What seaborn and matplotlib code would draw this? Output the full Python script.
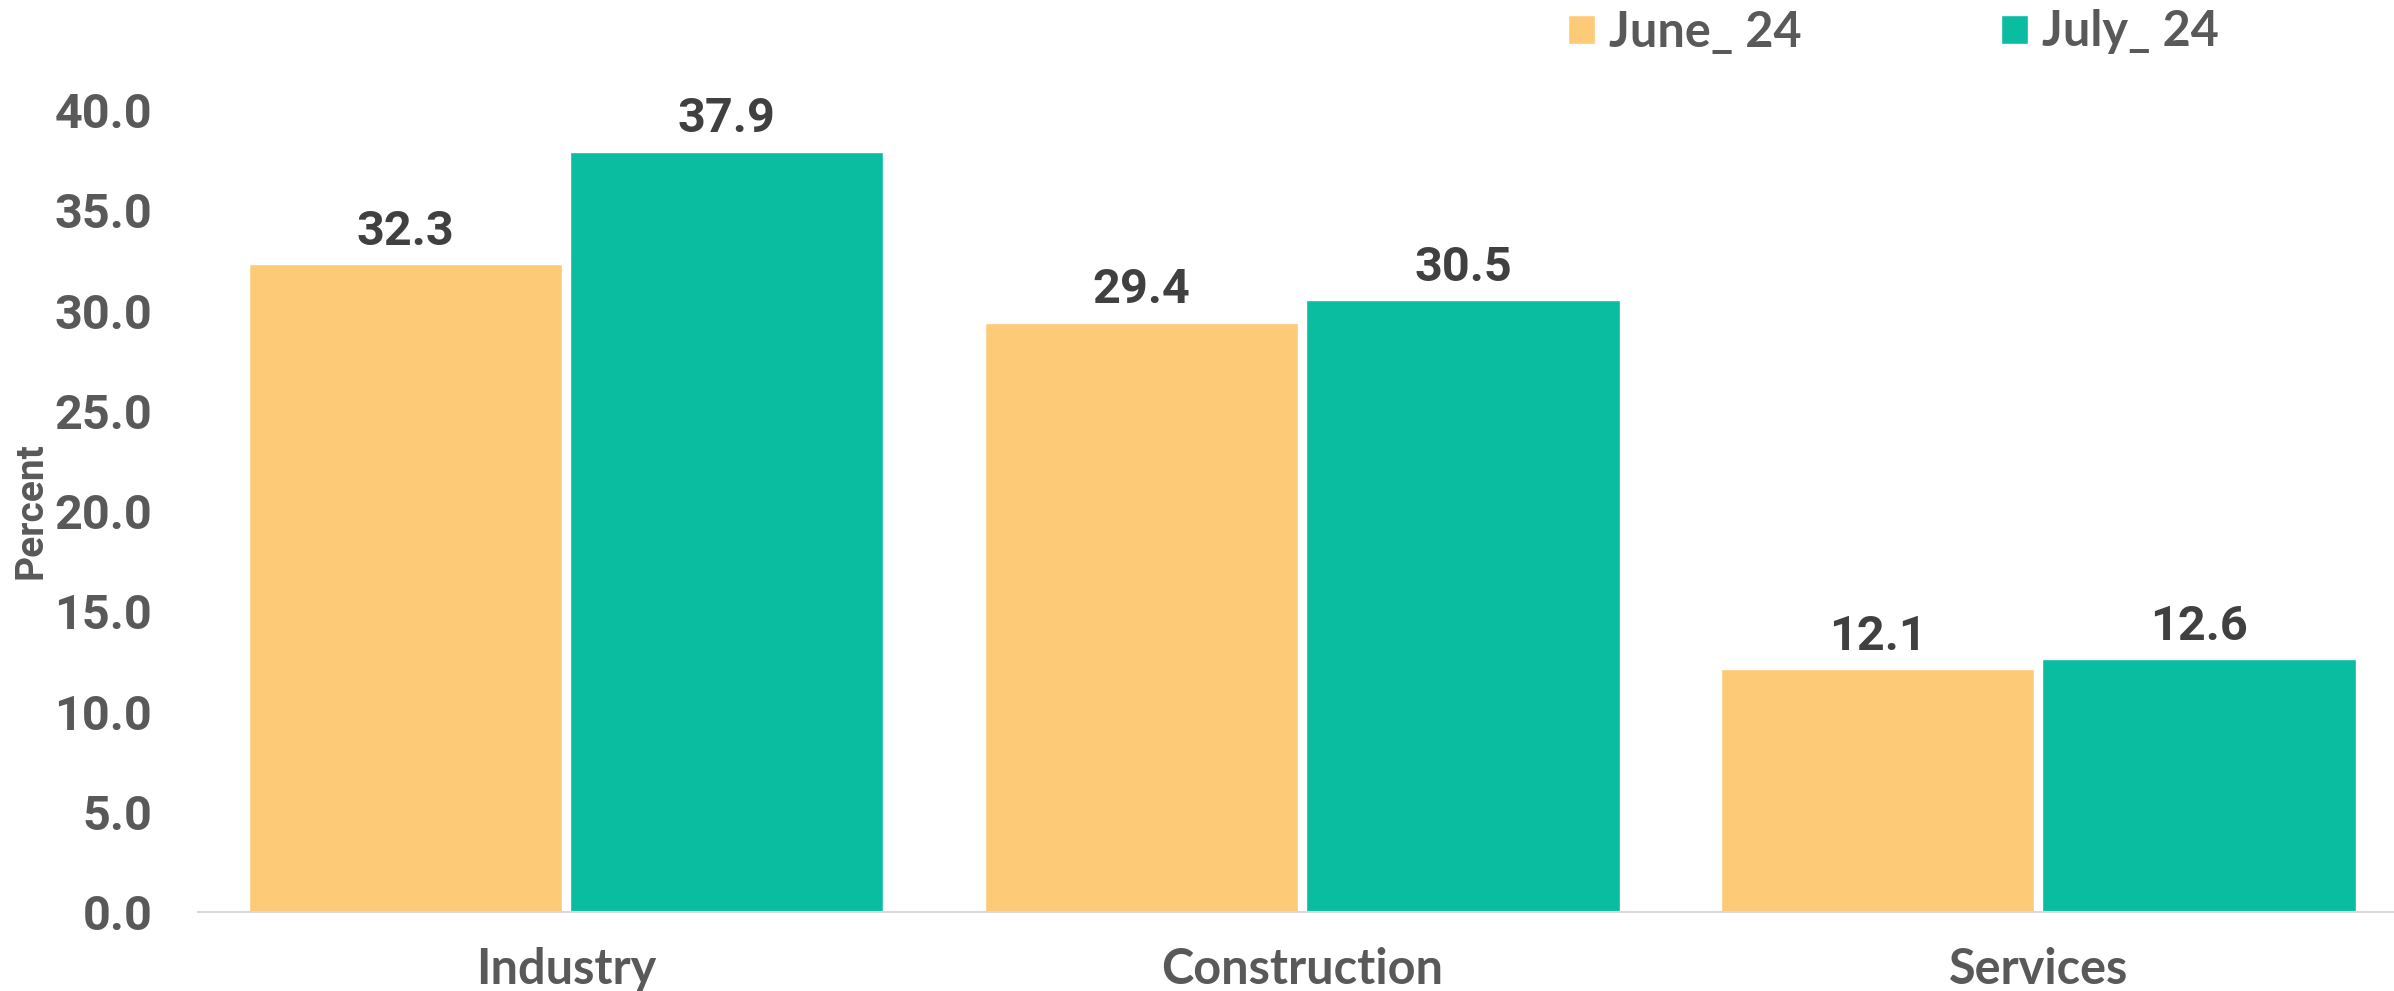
import matplotlib
matplotlib.use("Agg")
import matplotlib.pyplot as plt
import pandas as pd
import seaborn as sns

# Data
sectors = ["Industry", "Construction", "Services"]
periods = ["June_ 24", "July_ 24"]
june_values = [32.3, 29.4, 12.1]
july_values = [37.9, 30.5, 12.6]
y_ticks = [0, 5, 10, 15, 20, 25, 30, 35, 40]

colors = {"June_ 24": "#FDCA78", "July_ 24": "#0BBDA0"}
TEXT_GREY = "#595959"
LABEL_DARK = "#404040"

df = pd.DataFrame({
    "sector": sectors * 2,
    "period": [periods[0]] * 3 + [periods[1]] * 3,
    "value": june_values + july_values,
})

sns.set_theme(style="white")
plt.rcParams["font.family"] = ["Roboto", "DejaVu Sans"]

fig = plt.figure(figsize=(23.94, 9.91), dpi=100)
ax = fig.add_axes([0.0827, 0.0797, 0.9173, 0.8093])

sns.barplot(
    data=df, x="sector", y="value", hue="period",
    order=sectors, hue_order=periods, palette=colors,
    width=0.873, gap=0.025, saturation=1, errorbar=None, ax=ax,
)

# value labels above each bar
for container in ax.containers:
    ax.bar_label(container, fmt="%.1f", padding=7, fontsize=35,
                 fontweight="bold", color=LABEL_DARK, family="Roboto")

ax.set_xlim(-0.5, 2.483)
ax.set_ylim(0, 40)
ax.set_yticks(y_ticks)
ax.set_yticklabels([f"{t:.1f}" for t in y_ticks], fontsize=35,
                   fontweight="bold", color=TEXT_GREY, family="Roboto")
ax.set_xticks(range(len(sectors)))
ax.set_xticklabels(sectors, fontsize=35, fontweight="bold",
                   color=TEXT_GREY, family="Lato")
ax.tick_params(axis="y", length=0, pad=33)
ax.tick_params(axis="x", length=0, pad=25)

ax.set_xlabel("")
ax.set_ylabel("Percent", fontsize=28, fontweight="bold", color=TEXT_GREY,
              family="Roboto")
ax.yaxis.set_label_coords(-0.0675, 0.5)

for side in ["top", "right", "left"]:
    ax.spines[side].set_visible(False)
ax.spines["bottom"].set_color("#D9D9D9")
ax.spines["bottom"].set_linewidth(1.5)

# legend up in the top right corner
handles, labels = ax.get_legend_handles_labels()
ax.get_legend().remove()
fig.legend(
    handles, labels, loc="center left",
    bbox_to_anchor=(1568 / 2394, 1 - 32 / 991), ncol=2, frameon=False,
    prop={"family": "Lato", "weight": "bold", "size": 35},
    labelcolor=TEXT_GREY, handlelength=0.55, handleheight=0.55,
    handletextpad=0.29, columnspacing=4.1, borderpad=0, borderaxespad=0,
)

fig.savefig("out.png", dpi=100)
